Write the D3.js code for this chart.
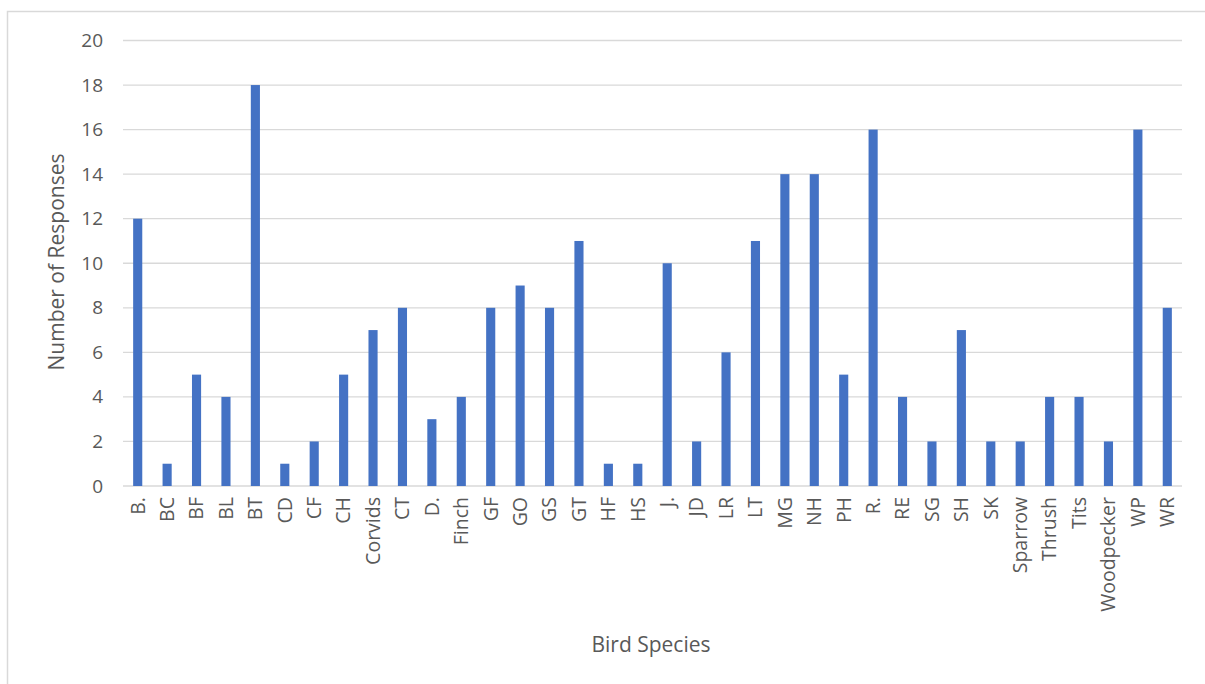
<!DOCTYPE html>
<html>
<head>
<meta charset="utf-8">
<script src="https://cdn.jsdelivr.net/npm/d3@7"></script>
<style>
  body { margin: 0; background: #fff; }
  svg { display: block; font-family: "Open Sans", sans-serif; }
</style>
</head>
<body>
<svg width="1205" height="684"></svg>
<script>
// bird species survey counts
const species = ["B.", "BC", "BF", "BL", "BT", "CD", "CF", "CH", "Corvids", "CT", "D.", "Finch",
  "GF", "GO", "GS", "GT", "HF", "HS", "J.", "JD", "LR", "LT", "MG", "NH", "PH", "R.", "RE",
  "SG", "SH", "SK", "Sparrow", "Thrush", "Tits", "Woodpecker", "WP", "WR"];
const responses = [12, 1, 5, 4, 18, 1, 2, 5, 7, 8, 3, 4,
  8, 9, 8, 11, 1, 1, 10, 2, 6, 11, 14, 14, 5, 16, 4,
  2, 7, 2, 2, 4, 4, 2, 16, 8];
const yTicks = [0, 2, 4, 6, 8, 10, 12, 14, 16, 18, 20];

var svg = d3.select("svg"),
    width = +svg.attr("width"),
    height = +svg.attr("height");

// plot area (note: "top" is taken by window.top)
var plotL = 123, plotR = 1182, plotT = 40.5, plotB = 486;
var textColor = "#595959";

// chart frame
svg.append("rect")
    .attr("x", 7.5).attr("y", 11.5)
    .attr("width", 1300).attr("height", 800)
    .attr("fill", "none")
    .attr("stroke", "#d9d9d9")
    .attr("stroke-width", 1.5);

var x = d3.scaleBand()
    .domain(species)
    .range([plotL, plotR])
    .paddingInner(0.69)
    .paddingOuter(0.345);

var y = d3.scaleLinear()
    .domain([0, 20])
    .range([plotB, plotT]);

// gridlines
svg.append("g")
    .selectAll("line")
    .data(yTicks)
    .enter().append("line")
      .attr("x1", plotL).attr("x2", plotR)
      .attr("y1", d => y(d)).attr("y2", d => y(d))
      .attr("stroke", "#d9d9d9")
      .attr("stroke-width", 1.3);

// y axis labels
var yAxis = svg.append("g")
    .attr("transform", "translate(" + (plotL - 20) + ",0)")
    .call(d3.axisLeft(y).tickValues(yTicks).tickSize(0).tickPadding(0));
yAxis.select(".domain").remove();
yAxis.selectAll("text")
    .attr("fill", textColor)
    .style("font-size", "19px")
    .style("font-family", "'Open Sans', sans-serif");

// bars
svg.append("g")
    .selectAll("rect")
    .data(species)
    .enter().append("rect")
      .attr("x", d => x(d))
      .attr("width", x.bandwidth())
      .attr("y", (d, i) => y(responses[i]))
      .attr("height", (d, i) => y(0) - y(responses[i]))
      .attr("fill", "#4472c4");

// x axis labels, rotated
var xAxis = svg.append("g")
    .attr("transform", "translate(0," + plotB + ")")
    .call(d3.axisBottom(x).tickSize(0));
xAxis.select(".domain").remove();
xAxis.selectAll("text")
    .attr("fill", textColor)
    .style("font-size", "19.5px")
    .style("font-family", "'Open Sans', sans-serif")
    .attr("text-anchor", "end")
    .attr("transform", "rotate(-90)")
    .attr("x", -11)
    .attr("y", 0)
    .attr("dy", "0.35em");

// axis titles
svg.append("text")
    .attr("transform", "translate(64,262) rotate(-90)")
    .attr("text-anchor", "middle")
    .attr("fill", textColor)
    .style("font-size", "21px")
    .text("Number of Responses");

svg.append("text")
    .attr("x", 651).attr("y", 652)
    .attr("text-anchor", "middle")
    .attr("fill", textColor)
    .style("font-size", "21px")
    .text("Bird Species");
</script>
</body>
</html>
